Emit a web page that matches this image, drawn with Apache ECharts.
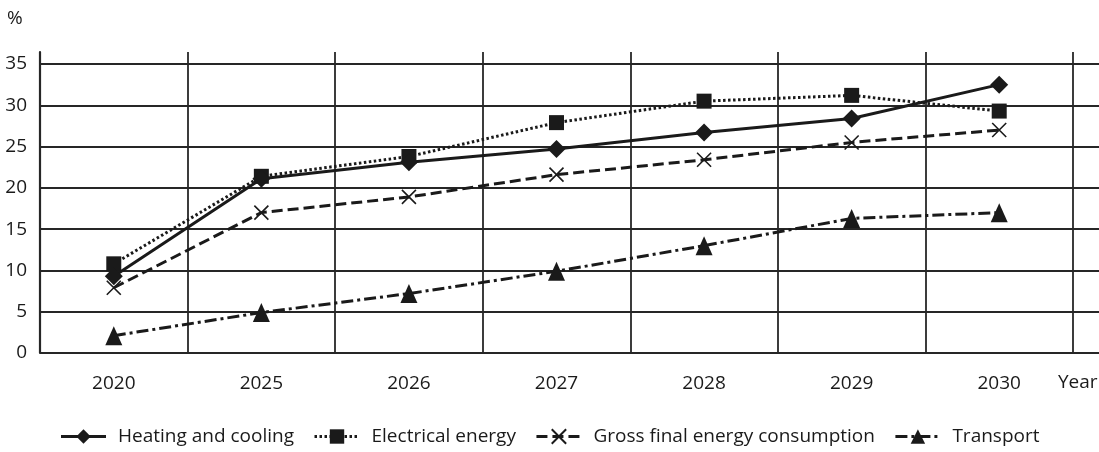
<!DOCTYPE html>
<html>
<head>
<meta charset="utf-8">
<script src="https://cdn.jsdelivr.net/npm/echarts@6/dist/echarts.min.js"></script>
<style>
html,body{margin:0;padding:0;background:#fff;}
#chart{width:1099px;height:452px;}
</style>
</head>
<body>
<div id="chart"></div>
<script>
const categories = ['2020','2025','2026','2027','2028','2029','2030'];
const heatingCooling = [9.3, 21.1, 23.1, 24.7, 26.7, 28.4, 32.5];
const electricalEnergy = [10.8, 21.4, 23.8, 27.9, 30.5, 31.2, 29.3];
const grossFinal = [7.9, 17.0, 18.9, 21.6, 23.4, 25.5, 27.0];
const transport = [2.1, 4.9, 7.2, 9.9, 13.0, 16.3, 17.0];
const seriesNames = ['Heating and cooling', 'Electrical energy', 'Gross final energy consumption', 'Transport'];
const yTicksMax = 35;

const FONT = '"Open Sans", sans-serif';
const FS = 19;
const INK = '#1a1a1a';
const GRIDC = '#262626';
const xPath = 'path://M0,0L10,10M10,0L0,10';

const chart = echarts.init(document.getElementById('chart'));
const topA = 64, topB = 52, bottom = 99;
const yMaxB = yTicksMax * (452 - bottom - topB) / (452 - bottom - topA);

chart.setOption({
  animation: false,
  backgroundColor: '#fff',
  textStyle: { fontFamily: FONT, color: INK },
  graphic: [
    { type: 'text', left: 7, top: 9, style: { text: '%', font: FS + 'px ' + FONT, fill: INK } },
    { type: 'text', left: 1058, top: 373, style: { text: 'Year', font: FS + 'px ' + FONT, fill: INK } }
  ],
  grid: [
    { left: 40, right: 0, top: topA, bottom: bottom },
    { left: 40, right: 26, top: topB, bottom: bottom }
  ],
  xAxis: [
    { gridIndex: 0, type: 'value', show: false, min: 0, max: 1 },
    {
      gridIndex: 1, type: 'category', data: categories, boundaryGap: true,
      axisLine: { show: false },
      axisTick: { show: false },
      axisLabel: { color: INK, fontSize: FS, fontFamily: FONT, margin: 21 },
      splitLine: { show: true, lineStyle: { color: GRIDC, width: 1.8 } }
    }
  ],
  yAxis: [
    {
      gridIndex: 0, type: 'value', min: 0, max: yTicksMax, interval: 5,
      axisLine: { show: false }, axisTick: { show: false },
      axisLabel: { color: INK, fontSize: FS, fontFamily: FONT, margin: 13 },
      splitLine: { show: true, lineStyle: { color: GRIDC, width: 1.8 } }
    },
    {
      gridIndex: 1, type: 'value', min: 0, max: yMaxB,
      axisLine: { show: true, lineStyle: { color: GRIDC, width: 2.2 } },
      axisTick: { show: false }, axisLabel: { show: false },
      splitLine: { show: false }
    }
  ],
  legend: {
    bottom: 1, left: 'center',
    itemWidth: 45, itemHeight: 18, itemGap: 19,
    lineStyle: { width: 3 },
    textStyle: { color: INK, fontSize: FS, fontFamily: FONT, padding: [0, 0, 0, 7] },
    data: seriesNames
  },
  series: [
    {
      name: seriesNames[0], type: 'line', xAxisIndex: 1, yAxisIndex: 1,
      data: heatingCooling, symbol: 'diamond', symbolSize: [18, 18],
      lineStyle: { color: INK, width: 3, type: 'solid' },
      itemStyle: { color: INK }, z: 4
    },
    {
      name: seriesNames[1], type: 'line', xAxisIndex: 1, yAxisIndex: 1,
      data: electricalEnergy, symbol: 'rect', symbolSize: [15, 15],
      lineStyle: { color: INK, width: 3, type: [2.5, 2.5] },
      itemStyle: { color: INK }, z: 3
    },
    {
      name: seriesNames[2], type: 'line', xAxisIndex: 1, yAxisIndex: 1,
      data: grossFinal, symbol: xPath, symbolSize: [14, 14],
      lineStyle: { color: INK, width: 3, type: [11, 5] },
      itemStyle: { color: 'rgba(0,0,0,0)', borderColor: INK, borderWidth: 1.6 }, z: 3
    },
    {
      name: seriesNames[3], type: 'line', xAxisIndex: 1, yAxisIndex: 1,
      data: transport, symbol: 'triangle', symbolSize: [17, 19],
      lineStyle: { color: INK, width: 3, type: [12, 4, 3, 4] },
      itemStyle: { color: INK }, z: 3
    }
  ]
});
</script>
</body>
</html>
